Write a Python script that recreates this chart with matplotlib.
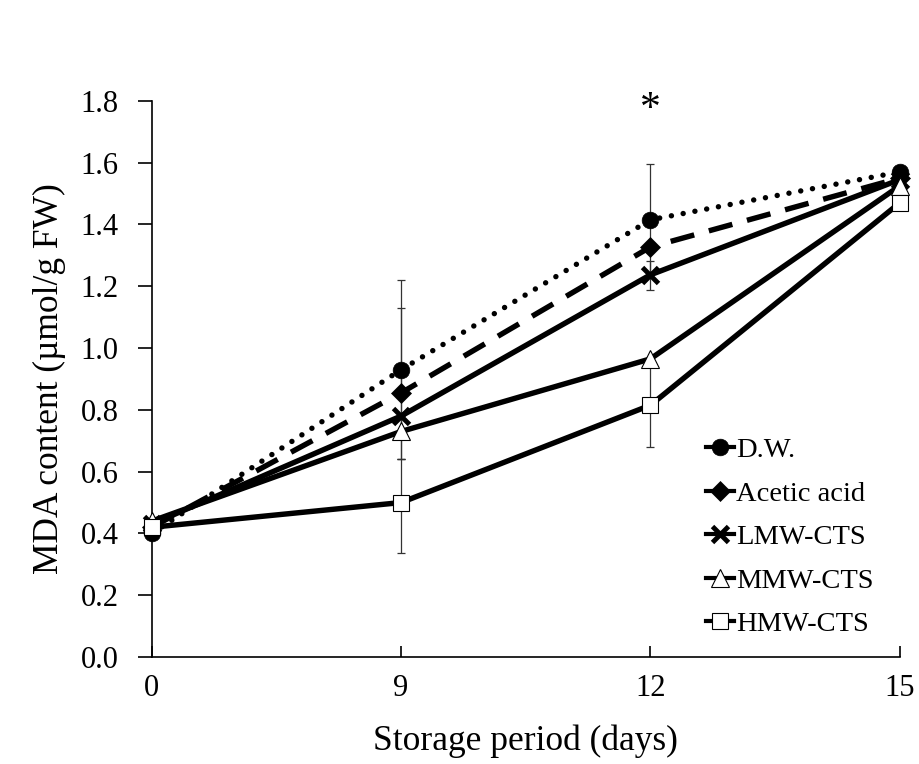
import numpy as np
import matplotlib
matplotlib.use('Agg')
import matplotlib.pyplot as plt

plt.rcParams['font.family'] = ['Liberation Serif', 'DejaVu Serif']

days = ['0', '9', '12', '15']

dw = [0.40, 0.93, 1.415, 1.57]
acetic = [0.42, 0.855, 1.327, 1.55]
lmw = [0.43, 0.78, 1.237, 1.545]
mmw = [0.44, 0.73, 0.965, 1.525]
hmw = [0.42, 0.50, 0.815, 1.47]

# error bars (lower, upper)
dw_err = [[0.0, 0.29, 0.18, 0.0], [0.0, 0.29, 0.18, 0.0]]
acetic_err = [[0.0, 0.215, 0.0, 0.0], [0.0, 0.275, 0.0, 0.0]]
lmw_err = [[0.0, 0.0, 0.05, 0.0], [0.0, 0.0, 0.045, 0.0]]
mmw_err = [[0.0, 0.0, 0.0, 0.0], [0.0, 0.0, 0.0, 0.0]]
hmw_err = [[0.0, 0.163, 0.135, 0.0], [0.0, 0.14, 0.135, 0.0]]

x = np.arange(len(days))

fig = plt.figure(figsize=(9.2, 7.64), dpi=100)
ax = fig.add_axes([0.165, 0.14, 0.813, 0.728])

series = [
    ('D.W.', dw, dw_err, 'o', 'black', (0, (0.01, 2.2)), 'round', 12),
    ('Acetic acid', acetic, acetic_err, 'D', 'black', (0, (4.5, 2.8)), 'butt', 10),
    ('LMW-CTS', lmw, lmw_err, 'x', 'black', '-', 'butt', 12),
    ('MMW-CTS', mmw, mmw_err, '^', 'white', '-', 'butt', 13),
    ('HMW-CTS', hmw, hmw_err, 's', 'white', '-', 'butt', 12),
]

for name, y, err, mk, fc, ls, cap, ms in series:
    ax.errorbar(x, y, yerr=err, fmt='none', ecolor='#333333', elinewidth=0.9,
                capsize=3, capthick=0.9, zorder=2, clip_on=False)
    mew = 3.5 if mk == 'x' else (0.8 if fc == 'white' else 0.5)
    ax.plot(x, y, linestyle=ls, color='black', linewidth=3.9,
            dash_capstyle=cap, marker=mk, markersize=ms,
            markerfacecolor=fc, markeredgecolor='black',
            markeredgewidth=mew, label=name, zorder=3, clip_on=False)

ax.set_xlim(0, 3)
ax.set_ylim(0, 1.8)
ax.set_xticks(x)
ax.set_xticklabels(days)
ax.set_xticks([0], minor=True)
ax.set_yticks(np.arange(0, 1.81, 0.2))
ax.set_yticklabels(['%.1f' % v for v in np.arange(0, 1.81, 0.2)])
ax.tick_params(axis='both', labelsize=22, width=1.2)
ax.tick_params(axis='x', direction='in', length=8, pad=12)
ax.tick_params(axis='x', which='minor', direction='out', length=8, width=1.2)
ax.tick_params(axis='y', direction='out', length=10, pad=14)
for s in ['top', 'right']:
    ax.spines[s].set_visible(False)
for s in ['left', 'bottom']:
    ax.spines[s].set_linewidth(1.2)

ax.set_xlabel('Storage period (days)', fontsize=25.5, labelpad=16)
ax.set_ylabel('MDA content (µmol/g FW)', fontsize=25.5, labelpad=10)

ax.text(2, 1.77, '*', ha='center', va='center', fontsize=30)

leg = fig.legend(loc='upper left', bbox_to_anchor=(706 / 920, 1 - 437 / 764),
                 frameon=False, fontsize=20.5, handlelength=1.0,
                 handletextpad=0.05, labelspacing=0.62, borderpad=0.0,
                 borderaxespad=0.0)
for h in leg.get_lines():
    h.set_linestyle('-')
    h.set_linewidth(3)

fig.savefig('out.png', dpi=100)
